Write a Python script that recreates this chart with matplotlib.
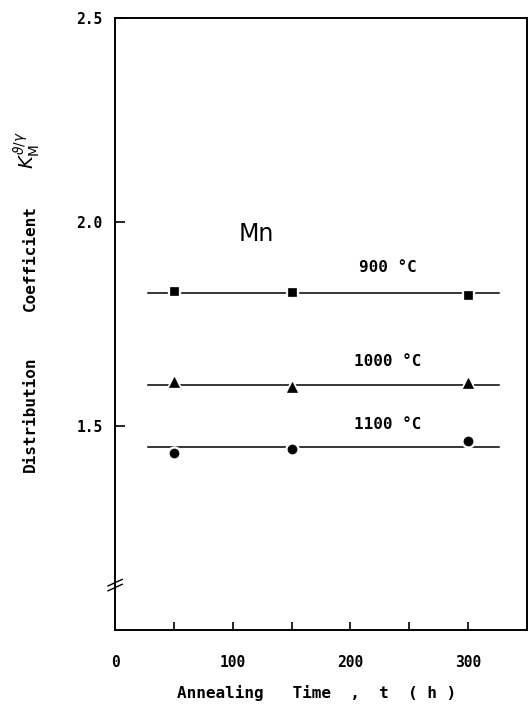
import matplotlib
matplotlib.use("Agg")
import matplotlib.pyplot as plt
import numpy as np

# Data
times = [50, 150, 300]
k900 = [1.830, 1.829, 1.820]
k1000 = [1.607, 1.595, 1.605]
k1100 = [1.434, 1.444, 1.463]
fit_levels = {"900": 1.826, "1000": 1.601, "1100": 1.449}
line_span = [28, 326]
series_labels = ["900 °C", "1000 °C", "1100 °C"]
xticks = [0, 50, 100, 150, 200, 250, 300]
xticklabels = ["0", "", "100", "", "200", "", "300"]
yticks = [1.5, 2.0, 2.5]
yticklabels = ["1.5", "2.0", "2.5"]

MONO = ['DejaVu Sans Mono', 'DejaVu Sans']
plt.rcParams['font.family'] = MONO
fig = plt.figure(figsize=(5.28, 7.13), dpi=100)
ax = fig.add_axes([0.218, 0.1164, 0.780, 0.8585])

series = [(k900, "900", "s", 7), (k1000, "1000", "^", 8), (k1100, "1100", "o", 8)]
for vals, key, mk, ms in series:
    lvl = fit_levels[key]
    ax.plot(line_span, [lvl, lvl], color="black", lw=1.1, zorder=1)
    ax.plot(times, vals, linestyle="none", marker=mk, ms=ms, color="black",
            markeredgecolor="white", markeredgewidth=2.4, zorder=2)
    ax.plot(times, vals, linestyle="none", marker=mk, ms=ms - 1.5, color="black",
            markeredgecolor="black", markeredgewidth=0.5, zorder=3)

lab_y = [1.878, 1.646, 1.493]
for lbl, yy in zip(series_labels, lab_y):
    ax.text(232, yy, lbl, fontsize=11.5, fontweight="bold", ha="center", va="baseline")
ax.text(120, 1.97, "Mn", fontsize=17, ha="center", va="center", family="DejaVu Sans")

ax.set_xlim(0, 350)
ax.set_ylim(1.0, 2.5)
ax.set_xticks(xticks)
ax.set_xticklabels(xticklabels, fontsize=10.5, fontweight="bold")
ax.set_yticks(yticks)
ax.set_yticklabels(yticklabels, fontsize=10.5, fontweight="bold")
ax.tick_params(axis="x", direction="in", length=6, width=1.2, pad=18)
ax.tick_params(axis="y", direction="in", length=7, width=1.2, pad=9)
for s in ax.spines.values():
    s.set_linewidth(1.4)

ax.set_xlabel("Annealing   Time  ,  t  ( h )", fontsize=11.5, fontweight="bold")
ax.xaxis.set_label_coords(0.49, -0.09)

# y label pieces
fig.text(0.057, 0.419, "Distribution", rotation=90, fontsize=11.5, fontweight="bold",
         ha="center", va="center")
fig.text(0.057, 0.638, "Coefficient", rotation=90, fontsize=11.5, fontweight="bold",
         ha="center", va="center")
fig.text(0.050, 0.790, "$K_{\\mathrm{M}}^{\\vartheta/\\gamma}$", rotation=90, fontsize=14,
         ha="center", va="center")

# axis break marks on left spine
yb = 1.11
for dy in (-0.006, 0.006):
    ax.plot([-6, 6], [yb + dy - 0.008, yb + dy + 0.008], color="black", lw=1.0,
            clip_on=False, zorder=5)

fig.savefig("out.png", dpi=100)
